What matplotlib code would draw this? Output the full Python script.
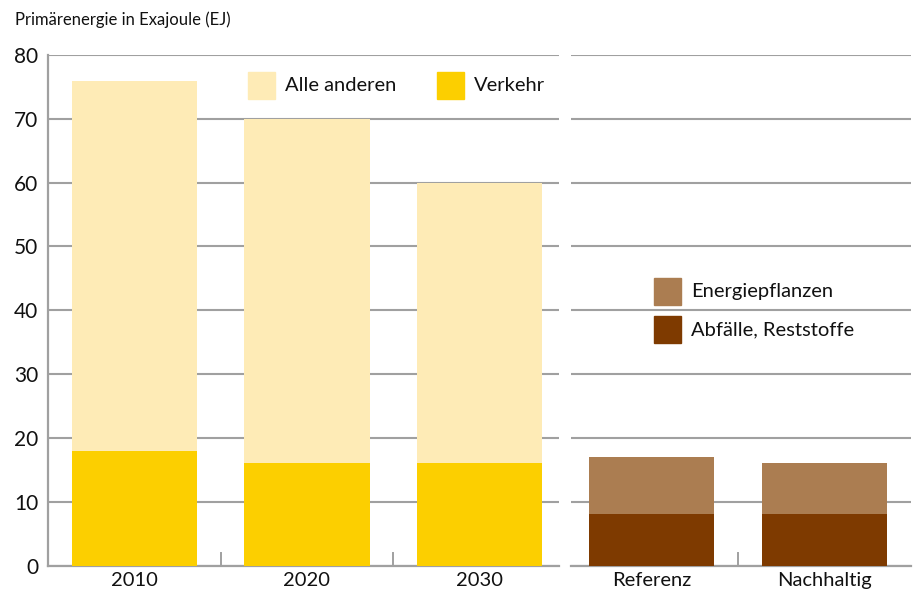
import matplotlib
matplotlib.use("Agg")
import matplotlib.pyplot as plt
from matplotlib.patches import Rectangle

plt.rcParams['font.family'] = ['Lato', 'DejaVu Sans']

years = ["2010", "2020", "2030"]
verkehr = [18, 16, 16]
alle_anderen = [58, 54, 44]  # on top of Verkehr (totals 76, 70, 60)

scenarios = ["Referenz", "Nachhaltig"]
abfaelle = [8, 8]
energiepflanzen = [9, 8]  # totals 17, 16

c_alle = "#FEEBB6"
c_verkehr = "#FCCF00"
c_energie = "#AB7D51"
c_abfall = "#7E3A00"
grid_c = "#A0A0A0"

W, H = 916, 594
fig = plt.figure(figsize=(W / 100, H / 100), dpi=100)

def fx(px):
    return px / W

def fy(py):
    return 1 - py / H

y0, y80 = 565.5, 55
axL = fig.add_axes([fx(48), fy(y0), fx(559 - 48), (y0 - y80) / H])
axR = fig.add_axes([fx(571), fy(y0), fx(911 - 571), (y0 - y80) / H])

bw = 0.725
xl = list(range(len(years)))
axL.bar(xl, verkehr, width=bw, color=c_verkehr, zorder=3)
axL.bar(xl, alle_anderen, bottom=verkehr, width=bw, color=c_alle, zorder=3)
xr = list(range(len(scenarios)))
axR.bar(xr, abfaelle, width=bw, color=c_abfall, zorder=3)
axR.bar(xr, energiepflanzen, bottom=abfaelle, width=bw, color=c_energie, zorder=3)

axL.set_xlim(-0.5, 2.46)
axR.set_xlim(-0.465, 1.5)
yt = list(range(0, 81, 10))
for ax in (axL, axR):
    ax.set_ylim(0, 80)
    ax.set_yticks(yt)
    ax.grid(axis='y', color=grid_c, linewidth=1.5, zorder=0)
    for s in ('top', 'right', 'left'):
        ax.spines[s].set_visible(False)
    ax.spines['bottom'].set_color(grid_c)
    ax.spines['bottom'].set_linewidth(1.6)
    ax.tick_params(axis='y', length=0)
    ax.tick_params(axis='x', length=0, pad=5, labelsize=14.5, colors='#111111')

axL.spines['left'].set_visible(True)
axL.spines['left'].set_color(grid_c)
axL.spines['left'].set_linewidth(1.6)
axL.tick_params(axis='y', labelsize=15, pad=7, colors='#111111')
axR.tick_params(axis='y', labelleft=False)

axL.set_xticks(xl)
axL.set_xticklabels(years)
axR.set_xticks(xr)
axR.set_xticklabels(scenarios)

# separator ticks between categories
for x in (0.5, 1.5):
    axL.plot([x, x], [0, 2.0], color=grid_c, linewidth=1.4, zorder=4, clip_on=False)
axR.plot([0.5, 0.5], [0, 2.0], color=grid_c, linewidth=1.4, zorder=4, clip_on=False)

fig.text(fx(15), fy(20), "Primärenergie in Exajoule (EJ)", fontsize=12,
         va='center', ha='left', color='#111111')

def legend_item(px, py, color, label):
    s = 27
    fig.add_artist(Rectangle((fx(px), fy(py + s)), fx(s), s / H,
                             transform=fig.transFigure, color=color))
    fig.text(fx(px + s + 10), fy(py + s / 2), label, fontsize=14.5,
             va='center', ha='left', color='#111111')

legend_item(248, 72, c_alle, "Alle anderen")
legend_item(437, 72, c_verkehr, "Verkehr")
legend_item(654, 278, c_energie, "Energiepflanzen")
legend_item(654, 316, c_abfall, "Abfälle, Reststoffe")

fig.savefig("out.png", dpi=100)
